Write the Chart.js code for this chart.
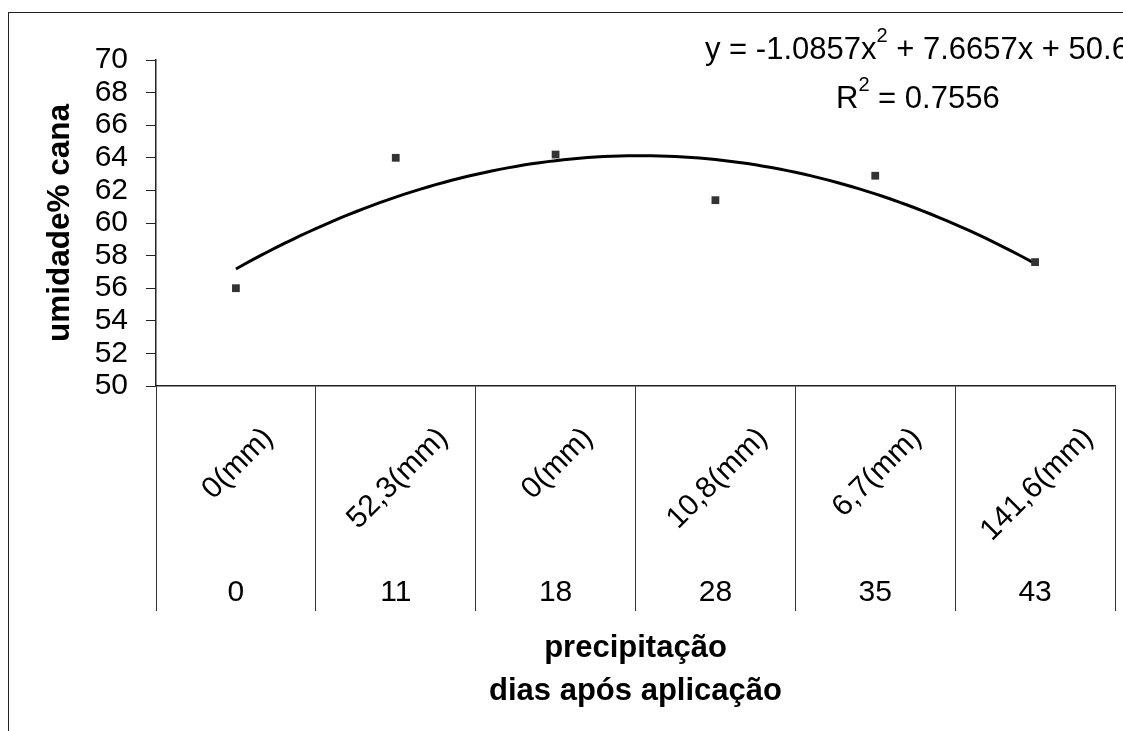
<!DOCTYPE html>
<html>
<head>
<meta charset="utf-8">
<script src="https://cdn.jsdelivr.net/npm/chart.js@4.4.1/dist/chart.umd.min.js"></script>
<style>
  html, body { margin: 0; padding: 0; background: #fff; }
  #wrap { position: relative; width: 1123px; height: 731px; overflow: hidden; background: #fff; }
  #wrap canvas { position: absolute; left: 0; top: 0; }
  #frame { position: absolute; left: 8px; top: 12px; right: -10px; bottom: -10px;
           border-left: 1.5px solid #222; border-top: 1.5px solid #222; pointer-events: none; }
</style>
</head>
<body>
<div id="wrap">
  <canvas id="chart" width="1123" height="731"></canvas>
  <div id="frame"></div>
</div>
<script>
// Days after application (category labels on the lower row)
const days = ['0', '11', '18', '28', '35', '43'];
// Rainfall in each period (rotated labels on the upper row)
const precipitation = ['0(mm)', '52,3(mm)', '0(mm)', '10,8(mm)', '6,7(mm)', '141,6(mm)'];
// Cane moisture (%) measured on each date
const moisture = [56.0, 64.0, 64.2, 61.4, 62.9, 57.6];
// Polynomial trend y = a·x² + b·x + c, x = 1..6, and its R²
const trendCoef = [-1.0857, 7.6657, 50.6];
const rSquared = '0.7556';
// Value axis range
const yMin = 50, yMax = 70, yStep = 2;

const FONT = '"Liberation Sans", Arial, Helvetica, sans-serif';
Chart.defaults.font.family = FONT;
Chart.defaults.color = '#000';

const pointData = moisture.map((v, i) => ({ x: i + 1, y: v }));
const trendData = [];
for (let k = 0; k <= 100; k++) {
  const x = 1 + k * 0.05;
  trendData.push({ x, y: trendCoef[0] * x * x + trendCoef[1] * x + trendCoef[2] });
}

// Two-row category labels below the axis and the regression text box
const labelsPlugin = {
  id: 'labelsPlugin',
  afterDraw(chart) {
    const ctx = chart.ctx;
    const xs = chart.scales.x;
    ctx.save();
    ctx.fillStyle = '#000';
    ctx.font = '30px ' + FONT;
    days.forEach((d, i) => {
      const cx = xs.getPixelForValue(i);
      ctx.textAlign = 'center';
      ctx.textBaseline = 'alphabetic';
      ctx.fillText(d, cx, 601);
      const w = ctx.measureText(precipitation[i]).width;
      const cy = 424 + 0.354 * (w + 26);
      ctx.save();
      ctx.translate(cx + 2, cy);
      ctx.rotate(-Math.PI / 4);
      ctx.textBaseline = 'middle';
      ctx.fillText(precipitation[i], 0, 0);
      ctx.restore();
    });

    // equation and R²
    const fmt = v => v.toFixed(4).replace(/0+$/, '').replace(/\.$/, '');
    ctx.textAlign = 'left';
    ctx.textBaseline = 'alphabetic';
    let x = 705;
    const big = '31px ' + FONT, small = '20px ' + FONT;
    const seg = (t, f, y) => { ctx.font = f; ctx.fillText(t, x, y); x += ctx.measureText(t).width; };
    seg('y = ' + fmt(trendCoef[0]) + 'x', big, 59);
    seg('2', small, 42);
    seg(' + ' + fmt(trendCoef[1]) + 'x + ' + fmt(trendCoef[2]), big, 59);
    x = 836;
    seg('R', big, 108);
    seg('2', small, 91);
    seg(' = ' + rSquared, big, 108);
    ctx.restore();
  }
};

new Chart(document.getElementById('chart'), {
  type: 'scatter',
  data: {
    labels: days,
    datasets: [
      {
        label: 'umidade',
        data: pointData,
        xAxisID: 'xl',
        showLine: false,
        pointStyle: 'rect',
        pointRadius: 5.5,
        pointBorderWidth: 0,
        backgroundColor: '#333',
        borderColor: '#333',
        order: 0
      },
      {
        label: 'tendência',
        data: trendData,
        xAxisID: 'xl',
        showLine: true,
        pointRadius: 0,
        borderColor: '#000',
        borderWidth: 3,
        fill: false,
        order: 1
      }
    ]
  },
  options: {
    responsive: false,
    animation: false,
    events: [],
    layout: { padding: { top: 60, right: 8, left: 0, bottom: 0 } },
    plugins: { legend: { display: false }, tooltip: { enabled: false } },
    scales: {
      x: {
        type: 'category',
        position: 'bottom',
        offset: true,
        grid: { offset: true, drawOnChartArea: false, drawTicks: true, tickLength: 225, color: '#333', lineWidth: 1 },
        border: { display: true, color: '#222', width: 1.5 },
        ticks: { display: false },
        title: {
          display: true,
          text: ['precipitação', 'dias após aplicação'],
          font: { size: 31, weight: 'bold', lineHeight: '43px' },
          color: '#000',
          padding: { top: 0, bottom: 18 }
        },
        afterFit(scale) { scale.height = 345; }
      },
      xl: {
        type: 'linear',
        display: false,
        min: 0.5,
        max: 6.5
      },
      y: {
        min: yMin,
        max: yMax,
        ticks: { stepSize: yStep, autoSkip: false, font: { size: 30 }, color: '#000', padding: 18 },
        grid: { drawOnChartArea: false, tickLength: 10, color: '#222', lineWidth: 1 },
        border: { display: true, color: '#222', width: 1.5 },
        title: {
          display: true,
          text: 'umidade% cana',
          font: { size: 31.5, weight: 'bold' },
          color: '#000',
          padding: { top: 41, bottom: 0 }
        },
        afterFit(scale) { scale.width = 156; }
      }
    }
  },
  plugins: [labelsPlugin]
});
</script>
</body>
</html>
